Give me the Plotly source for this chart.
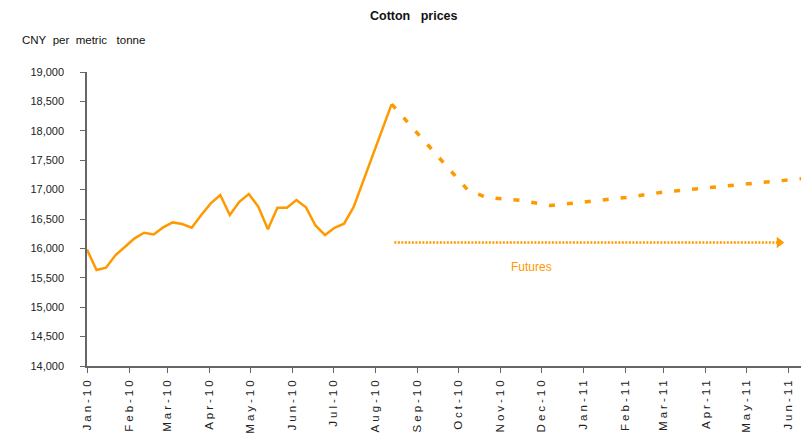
import plotly.graph_objects as go
import pandas as pd

# Spot prices (weekly), CNY per metric tonne
spot_dates = pd.date_range("2010-01-01", periods=33, freq="7D")
spot_values = [15980, 15632, 15671, 15887, 16028, 16171, 16266, 16238, 16357, 16442,
               16414, 16351, 16567, 16766, 16907, 16567, 16793, 16924, 16708, 16324,
               16691, 16691, 16822, 16698, 16390, 16227, 16350, 16420, 16700, 17140,
               17580, 18020, 18454]

# Futures curve
fut_dates = ["2010-08-13", "2010-10-08", "2010-10-22", "2010-11-15", "2010-12-08",
             "2011-01-01", "2011-02-01", "2011-03-01", "2011-04-01", "2011-05-01",
             "2011-06-01", "2011-06-15"]
fut_values = [18454, 16992, 16865, 16817, 16729, 16785, 16865, 16958, 17026, 17097,
              17165, 17196]

# Tick labels
tick_dates = pd.date_range("2010-01-01", "2011-06-01", freq="MS")
tick_labels = [d.strftime("%b-%y") for d in tick_dates]

# Futures arrow annotation
arrow_start = "2010-08-15"
arrow_end = "2011-05-25"
arrow_level = 16100
futures_label_x = "2010-11-24"
futures_label_y = 15680

ORANGE = "#FF9900"
FONT = "Liberation Sans Narrow, Arial Narrow, Liberation Sans, Arial"

fig = go.Figure()
fig.add_trace(go.Scatter(x=spot_dates, y=spot_values, mode="lines",
                         line=dict(color=ORANGE, width=2.5), showlegend=False,
                         hoverinfo="skip"))
fig.add_trace(go.Scatter(x=fut_dates, y=fut_values, mode="lines",
                         line=dict(color=ORANGE, width=3.5, dash="6px,12px"),
                         showlegend=False, hoverinfo="skip"))
# dotted arrow
fig.add_trace(go.Scatter(x=[arrow_start, arrow_end], y=[arrow_level, arrow_level],
                         mode="lines", line=dict(color=ORANGE, width=2.5, dash="2px,1.5px"),
                         showlegend=False, hoverinfo="skip"))
fig.add_trace(go.Scatter(x=[arrow_end], y=[arrow_level], mode="markers",
                         marker=dict(symbol="triangle-right", size=10, color=ORANGE),
                         showlegend=False, hoverinfo="skip"))

fig.add_annotation(x=futures_label_x, y=futures_label_y, text="Futures", showarrow=False,
                   font=dict(family=FONT, size=12, color=ORANGE))
fig.add_annotation(x=0.5, y=1, xref="paper", yref="paper", xshift=-30, yshift=56,
                   xanchor="center", yanchor="middle",
                   text="<b>Cotton\u00a0\u00a0 prices</b>", showarrow=False,
                   font=dict(family=FONT, size=12.5, color="#111"))
fig.add_annotation(x=0, y=1, xref="paper", yref="paper", xanchor="left", yanchor="middle",
                   xshift=-67, yshift=32,
                   text="CNY\u00a0 per\u00a0 metric\u00a0\u00a0 tonne", showarrow=False,
                   font=dict(family=FONT, size=11.5, color="#111"))

fig.update_layout(
    width=801, height=437,
    margin=dict(l=87, r=0, t=72, b=71, autoexpand=False),
    paper_bgcolor="white", plot_bgcolor="white",
    font=dict(family=FONT, size=12, color="#222"),
)
fig.update_xaxes(
    type="date", range=["2010-01-01", "2011-06-10"], automargin=False,
    tickmode="array", tickvals=tick_dates, ticktext=tick_labels, tickangle=-90,
    showgrid=False, zeroline=False, showline=True, linecolor="#666", linewidth=1.5,
    ticks="outside", ticklen=5, tickcolor="#666", ticklabelstandoff=0,
    tickfont=dict(family=FONT, size=11.5, color="#222"),
)
fig.update_yaxes(
    range=[14000, 19000], tickvals=list(range(14000, 19001, 500)), tickformat=",d",
    automargin=False,
    showgrid=False, zeroline=False, showline=True, linecolor="#666", linewidth=1.5,
    ticks="outside", ticklen=5, tickcolor="#666", ticklabelstandoff=14,
    tickfont=dict(family=FONT, size=11, color="#222"),
)

fig.write_html("out.html", config={"displayModeBar": False},
               post_script="document.body.style.margin='0';"
                           "document.querySelectorAll('.xtick text').forEach(function(t){t.style.letterSpacing='3px';});")
